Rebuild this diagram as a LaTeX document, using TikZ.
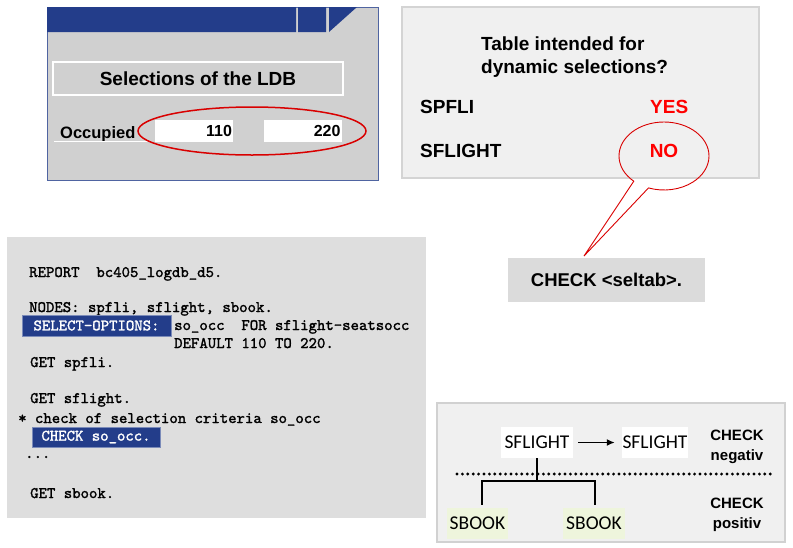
\documentclass[tikz,border=0pt]{standalone}
\usepackage{fontspec}
\setmainfont{Liberation Sans}
\newfontfamily\carlito{Carlito}
\newfontfamily\codefont[FakeBold=1.6]{lmmono10-regular.otf}
\usetikzlibrary{positioning,arrows.meta,shapes.geometric,shapes.callouts}
\definecolor{sapblue}{RGB}{35,61,138}
\definecolor{dlggray}{RGB}{208,208,208}
\definecolor{codegray}{RGB}{222,222,222}
\definecolor{paleback}{RGB}{240,240,240}
\definecolor{sbookgreen}{RGB}{238,245,220}

\begin{document}
\begin{tikzpicture}[x=1pt,y=-1pt,
    lbl/.style={font=\bfseries\fontsize{19}{22}\selectfont, inner sep=0pt},
    small/.style={font=\bfseries\fontsize{15}{20}\selectfont, inner sep=0pt, align=center},
    code/.style={font=\codefont\fontsize{16}{18}\selectfont, inner sep=0pt},
    hilite/.style={code, fill=sapblue, draw=sapblue!60, text=white},
    field/.style={fill=white, minimum height=22pt, text width=76pt, align=right,
        inner xsep=1pt, inner ysep=0pt, font=\bfseries\fontsize{16}{18}\selectfont},
    tbl/.style={font=\carlito\fontsize{19.5}{22}\selectfont, minimum height=31pt, inner sep=0pt},
    ]
\useasboundingbox (0,0) rectangle (793,547);

% selection screen
\draw[fill=dlggray, draw=sapblue!80] (47,7) rectangle (378,180);
\fill[sapblue] (47,7) rectangle (296,32) (298,7) rectangle (326,32)
    (329,7) -- (357,7) -- (329,32) -- cycle;
\node[lbl, draw=white, line width=1.5pt, minimum width=290pt, minimum height=33pt] (ldb) at (198,78.5) {Selections of the LDB};
\node[font=\bfseries\fontsize{16.5}{18}\selectfont, inner sep=0pt, anchor=base west] (occ) at (60,138) {Occupied};
\draw[white] (54,141) -- (150,141);
\node[field] (low) at (194,131) {110};
\node[field] (high) at (302.5,131) {220};
\node[ellipse, draw=red!85!black, line width=1.5pt, minimum width=228pt, minimum height=48pt] (ring) at (252,131) {};

% dynamic selections
\draw[fill=paleback, draw=black!17, line width=1.5pt] (402,7) rectangle (759,178);
\node[lbl, anchor=base west] (q1) at (481,50) {Table intended for};
\node[lbl, anchor=base west] (q2) at (481,73) {dynamic selections?};
\node[lbl, anchor=base west] (spfli) at (420,113) {SPFLI};
\node[lbl, anchor=base west, text=red] (yes) at (650,113) {YES};
\node[lbl, anchor=base west] (sflight) at (420,157) {SFLIGHT};
\node[lbl, minimum width=197pt, minimum height=44pt, fill=black!14,
    font=\bfseries\fontsize{18.5}{22}\selectfont] (chk) at (606.5,280) {CHECK <seltab>.};
\coordinate (tip) at (584,256);
\node[ellipse callout, draw=red!85!black, line width=0.9pt, text=red, lbl, text depth=9.6pt,
    minimum width=90pt, minimum height=68pt, callout pointer arc=22,
    callout absolute pointer={(tip)}] (no) at (664,156) {NO};

% program
\fill[codegray] (7,237) rectangle (426,518);
\foreach \yy/\xx/\txt in {277/29/{REPORT~~bc405\_logdb\_d5.},
    312/29/{NODES:~spfli,~sflight,~sbook.},
    330/174/{so\_occ~~FOR~sflight-seatsocc},
    348/174/{DEFAULT~110~TO~220.},
    367/30/{GET~spfli.},
    403/30/{GET~sflight.},
    423/18/{*~check~of~selection~criteria~so\_occ},
    458/25/{...},
    498/30/{GET~sbook.}}
  \node[code, anchor=base west] (line\yy) at (\xx,\yy) {\txt};
\node[hilite, minimum width=149pt, minimum height=21pt] (selopt) at (96.5,325.5) {SELECT-OPTIONS:};
\node[hilite, minimum width=128pt, minimum height=20pt] (chkocc) at (96,437) {CHECK so\_occ.};

% check result
\draw[fill=paleback, draw=black!18, line width=1.5pt] (437,403) rectangle (785,542);
\node[tbl, fill=white, minimum width=72pt] (sf1) at (537,442.5) {SFLIGHT};
\node[tbl, fill=white, minimum width=66pt] (sf2) at (655,442.5) {SFLIGHT};
\node[tbl, fill=sbookgreen, minimum width=61pt] (sb1) at (477.5,523.5) {SBOOK};
\node[tbl, fill=sbookgreen, minimum width=62pt] (sb2) at (594,523.5) {SBOOK};
\node[small] (neg) at (737,447) {CHECK\\negativ};
\node[small] (pos) at (737,515) {CHECK\\positiv};
\draw[-{Latex[length=8pt,width=7pt]}, line width=1.5pt, shorten <=5pt, shorten >=7pt] (sf1) -- (sf2);
\draw[line width=3.2pt, dash pattern=on 0pt off 5.4pt, line cap=round] (457,474) -- (772,474);
\coordinate (fork) at (537,481);
\draw[line width=2pt] (sf1.south) -- (fork);
\draw[line width=2pt, shorten <=3pt, shorten >=3pt] ([xshift=4.5pt]sb1.north) |- (fork) -| ([xshift=1pt]sb2.north);

\end{tikzpicture}
\end{document}
